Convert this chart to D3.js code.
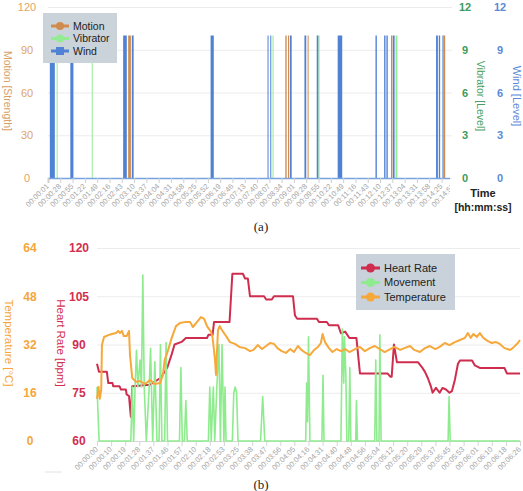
<!DOCTYPE html>
<html>
<head>
<meta charset="utf-8">
<script src="https://cdn.jsdelivr.net/npm/d3@7"></script>
<style>
body { margin: 0; background: #fff; }
svg { display: block; font-family: Helvetica, Arial, "Liberation Sans", sans-serif; }
</style>
</head>
<body>
<svg id="chart" width="523" height="491"></svg>
<script>
// (a) actuator events: [start sec, end sec, value]
var motionBars = [[177,183,100],[522,525,100],[528,530,100],[571,573,100],[754,757,100],[869,873,100]]
var vibratorBars = [[20,22,10],[56,58,10],[97,99,10],[494,496,10],[595,597,10],[764,768,10]]
var windBars = [[5,16,10],[50,56,10],[166,174,10],[185,189,10],[358,365,10],[483,485,10],[489,491,10],
    [532,536,10],[564,568,10],[591,595,10],[637,647,10],[720,723,10],[739,742,10],[744,747,10],
    [758,762,10],[853,857,10],[859,862,10],[867,869,10]]
var topTimeLabels = ["00:00:01","00:00:28","00:00:55","00:01:22","00:01:49","00:02:16","00:02:43","00:03:10",
    "00:03:37","00:04:04","00:04:31","00:04:58","00:05:25","00:05:52","00:06:19","00:06:46","00:07:13",
    "00:07:40","00:08:07","00:08:34","00:09:01","00:09:28","00:09:55","00:10:22","00:10:49","00:11:16",
    "00:11:43","00:12:10","00:12:37","00:13:04","00:13:31","00:13:58","00:14:25","00:14:52"]
var strengthTicks = [0, 30, 60, 90, 120]
var levelTicks = [0, 3, 6, 9, 12]

// (b) sensor log: [sample, value]
var heartRate = [[0,84],[1.4,81.5],[7,81.5],[8,78],[11,78],[11.5,77],[16,77],[17,76],[20.5,76],[21,74.5],
    [22.7,74],[24,67.5],[25,77],[37.6,77.5],[41,78.5],[44.7,79.5],[48,81.5],[50,83],[53,87],[55,90],
    [60,90.8],[63,92],[78,92],[79,93],[82,93],[83,97],[94,97],[96,112],[103.5,112],[105,110.5],[107,110.5],
    [108.5,105],[118.5,105],[120,104],[124,104],[125.5,105],[139,105],[140.4,99],[142,98],[156,98],
    [157.4,97],[163,97],[164.5,96],[171,96],[173,93.5],[176,94],[179,92],[184,92],[186.5,81],[206,81],
    [208,80],[209,80],[210.6,90],[212.7,84.5],[227.6,84.5],[230.4,83],[232.6,81.5],[234.7,79.5],[236.8,77],
    [238,75],[240.4,76.5],[243,75],[245,76.5],[247.5,76],[250,75],[251.7,75.5],[253.8,79],[256,84],
    [257.4,85],[266,85],[268,83.5],[271.5,82.7],[289,82.7],[290.7,81],[300,81]]
var temperature = [[0,14],[1,18],[2,14],[3,17],[3.5,31.8],[5,34.5],[8,35.1],[10.6,35.5],[13.5,35.8],[15,36.5],
    [16.3,35.8],[17.7,36.5],[19,34.8],[21,34.8],[22.7,36.5],[23.4,28.5],[25,20.9],[27.7,19.6],[30.5,19.9],
    [34,18.9],[37.6,20.2],[41,18.9],[44.7,19.2],[46.8,21.9],[48,26.9],[50,29.5],[53,34.2],[56,38.1],
    [58.8,39.1],[63,39.5],[66,39.5],[68,37.8],[71,39.5],[73.7,41.1],[76,40.5],[78,38.1],[81,36.1],[82,34.2],
    [83.7,26.9],[84.4,21.9],[85,28.5],[85.8,36.8],[87,38.1],[89,36.5],[91.5,34.8],[94.3,32.8],[97.8,32.2],
    [101,31.2],[105,30.8],[108.5,29.8],[111,30.2],[114,31.8],[117,30.5],[120,31.5],[122.7,32.5],[125.5,32.2],
    [128,30.8],[131,29.8],[134,29.2],[137,30.5],[139.7,29.5],[142.5,31.5],[145,30.2],[148,29.2],[151,28.5],
    [154,30.2],[156.7,31.2],[158.8,32.5],[160,35.5],[161.7,32.8],[164.5,30.8],[167,29.5],[170,30.5],
    [173,29.8],[176,30.5],[179,29.5],[183,30.5],[186.5,31.2],[190,29.8],[193.5,30.8],[197,31.5],[200.6,30.5],
    [204,29.5],[208,30.5],[211,31.2],[215,30.2],[218,30.8],[222,31.5],[225,30.2],[229,29.5],[232.6,30.8],
    [236,31.5],[240,30.5],[243,31.2],[246.7,32.5],[250,31.8],[253.8,32.8],[257.4,33.5],[261,34.2],[263,35.8],
    [265,34.2],[267,35.5],[269.4,34.5],[271.5,35.8],[274,34.2],[277,33.2],[280,32.5],[283,32.8],[285.7,32.2],
    [289,30.8],[293,30.2],[295.7,31.2],[298.5,32.5],[300,33.5]]
var movement = [[0,28],[1.5,0],[24,0],[25,28],[26,0],[27,28],[28,47],[29,28],[30.5,42],[31.5,28],[32.5,86],
    [33.5,28],[35,0],[37,28],[38,48],[39.5,0],[41,41],[42.5,0],[44,0],[45,50],[46,0],[48,0],[49,51],[50,0],
    [58.5,0],[59.5,38],[60.5,0],[62,0],[63,21],[64,0],[79,0],[80,28],[81,0],[82.5,28],[83.5,0],[85,28],
    [86.5,50],[87.5,0],[88.7,50],[90,0],[90.8,28],[91.5,0],[96,0],[97,25],[98,28],[99,25],[100,0],[116,0],
    [117.5,23],[119,0],[148,0],[148.7,30],[149.3,10],[150,54],[151,0],[159.5,0],[160.3,34],[161,0],[173,0],
    [174,58],[175,30],[175.5,54],[176.5,34],[177.2,0],[178.5,0],[179.3,38],[180,0],[183.5,0],[184,21],
    [184.7,0],[197,0],[197.7,42],[198.5,0],[200,0],[200.6,55],[201.5,0],[249,0],[249.7,23],[250.5,0],[300,0]]
var bottomTimeLabels = ["00:00:00","00:00:10","00:00:19","00:01:28","00:01:37","00:01:46","00:01:57","00:02:10",
    "00:02:18","00:02:53","00:03:25","00:03:38","00:03:47","00:03:56","00:04:05","00:04:16","00:04:31",
    "00:04:40","00:04:48","00:04:56","00:05:04","00:05:12","00:05:20","00:05:29","00:05:37","00:05:45",
    "00:05:53","00:06:01","00:06:10","00:06:18","00:06:26"]
var bpmTicks = [60, 75, 90, 105, 120]
var tempTicks = [0, 16, 32, 48, 64]

var svg = d3.select("#chart")
svg.append("rect").attr("width", 523).attr("height", 491).attr("fill", "#fff")

function toSeconds(s) {
    var p = s.split(":")
    return +p[0] * 3600 + +p[1] * 60 + +p[2]
}

// ================= (a) =================
var a = {left: 48, right: 452, top: 7, bottom: 178}
var xa = d3.scaleLinear().domain([1, 888]).range([a.left, a.right])
var yStrength = d3.scaleLinear().domain([0, 120]).range([a.bottom, a.top])
var yLevel = d3.scaleLinear().domain([0, 12]).range([a.bottom, a.top])

svg.append("g")
    .attr("transform", "translate(" + a.left + ",0)")
    .call(d3.axisLeft(yStrength).tickValues(strengthTicks).tickSize(-(a.right - a.left)).tickFormat(""))
    .call(g => g.select(".domain").remove())
    .selectAll("line").attr("stroke", "#ececec")

function drawBars(data, y, color, cls) {
    svg.selectAll("." + cls)
        .data(data)
        .enter().append("rect")
        .attr("class", cls)
        .attr("x", d => xa(d[0]))
        .attr("width", d => Math.max(1, xa(d[1]) - xa(d[0])))
        .attr("y", d => y(d[2]))
        .attr("height", d => a.bottom - y(d[2]))
        .attr("fill", color)
}
drawBars(windBars, yLevel, "#4f81d4", "wind")
drawBars(motionBars, yStrength, "#d08b4f", "motion")
drawBars(vibratorBars, yLevel, "#93ec93", "vib")

// clip is in the axis group's own coordinates (origin at the baseline)
svg.append("clipPath").attr("id", "clipA")
    .append("rect").attr("x", 0).attr("y", -10).attr("width", 450).attr("height", 60)

var xAxisA = svg.append("g")
    .attr("transform", "translate(0," + a.bottom + ")")
    .attr("clip-path", "url(#clipA)")
    .call(d3.axisBottom(xa)
        .tickValues(topTimeLabels.map(toSeconds))
        .tickFormat((d, i) => topTimeLabels[i])
        .tickSize(5))
xAxisA.select(".domain").attr("stroke", "#79a3e0").attr("stroke-width", 1.5)
xAxisA.selectAll(".tick line").attr("stroke", "#cfcfcf")
xAxisA.selectAll(".tick text")
    .attr("x", -5.6).attr("y", 4.2).attr("dy", "0.35em")
    .attr("transform", "rotate(-45)")
    .style("text-anchor", "end")
    .attr("fill", "#a5a5a5")
    .attr("font-size", 7.5)

// left axis (Motion)
var leftA = svg.append("g").attr("transform", "translate(27,0)")
    .call(d3.axisLeft(yStrength).tickValues(strengthTicks).tickSize(0).tickPadding(0))
leftA.select(".domain").remove()
leftA.selectAll("text").style("text-anchor", "middle").attr("fill", "#e0a468").attr("font-size", 11)

var vibA = svg.append("g").attr("transform", "translate(465,0)")
    .call(d3.axisRight(yLevel).tickValues(levelTicks).tickSize(0).tickPadding(0))
vibA.select(".domain").remove()
vibA.selectAll("text").style("text-anchor", "middle").attr("fill", "#3e9b5b")
    .attr("font-size", 11).attr("font-weight", 600)

var windA = svg.append("g").attr("transform", "translate(500,0)")
    .call(d3.axisRight(yLevel).tickValues(levelTicks).tickSize(0).tickPadding(0))
windA.select(".domain").remove()
windA.selectAll("text").style("text-anchor", "middle").attr("fill", "#5a8ad8")
    .attr("font-size", 11).attr("font-weight", 600)

function vLabel(x, y, text, color, size) {
    svg.append("text")
        .attr("transform", "translate(" + x + "," + y + ") rotate(90)")
        .attr("text-anchor", "middle")
        .attr("dy", "0.35em")
        .attr("fill", color)
        .attr("font-size", size)
        .text(text)
}
vLabel(8, 91, "Motion [Strength]", "#d9a066", 10.5)
vLabel(481, 96, "Vibrator [Level]", "#4c9f64", 10.5)
vLabel(517, 96, "Wind [Level]", "#5a8ad8", 11)

svg.append("text").attr("x", 483).attr("y", 197).attr("text-anchor", "middle")
    .attr("font-size", 11).attr("font-weight", 700).attr("fill", "#222").text("Time")
svg.append("text").attr("x", 483).attr("y", 211).attr("text-anchor", "middle")
    .attr("font-size", 10.5).attr("font-weight", 700).attr("fill", "#222").text("[hh:mm:ss]")

// legend (a)
var legA = svg.append("g")
legA.append("rect").attr("x", 43).attr("y", 13).attr("width", 74).attr("height", 50).attr("fill", "#cbd3da")
var legAItems = [["Motion", "#d08b4f", "circle"], ["Vibrator", "#93ec93", "circle"], ["Wind", "#4f81d4", "square"]]
legAItems.forEach(function (d, i) {
    var yy = 26 + i * 12.5
    legA.append("line").attr("x1", 51).attr("x2", 69).attr("y1", yy).attr("y2", yy)
        .attr("stroke", d[1]).attr("stroke-width", 3)
    if (d[2] == "circle") {
        legA.append("circle").attr("cx", 60).attr("cy", yy).attr("r", 4).attr("fill", d[1])
    } else {
        legA.append("rect").attr("x", 56).attr("y", yy - 4).attr("width", 8).attr("height", 8).attr("fill", d[1])
    }
    legA.append("text").attr("x", 73).attr("y", yy).attr("dy", "0.35em")
        .attr("font-size", 10.5).attr("fill", "#222").text(d[0])
})

svg.append("text").attr("x", 261).attr("y", 231).attr("text-anchor", "middle")
    .attr("font-family", "'Liberation Serif','DejaVu Serif',serif").attr("font-size", 13)
    .attr("fill", "#222").text("(a)")

// ================= (b) =================
var b = {left: 97, right: 520, top: 248, bottom: 441}
var xb = d3.scaleLinear().domain([0, 300]).range([b.left, b.right])
var yBpm = d3.scaleLinear().domain([60, 120]).range([b.bottom, b.top])
var yTemp = d3.scaleLinear().domain([0, 64]).range([b.bottom, b.top])
var yMove = d3.scaleLinear().domain([0, 100]).range([b.bottom, b.top])

svg.append("g")
    .attr("transform", "translate(" + b.left + ",0)")
    .call(d3.axisLeft(yBpm).tickValues(bpmTicks).tickSize(-(b.right - b.left)).tickFormat(""))
    .call(g => g.select(".domain").remove())
    .selectAll("line").attr("stroke", "#ececec")

var xAxisB = svg.append("g")
    .attr("transform", "translate(0," + b.bottom + ")")
    .call(d3.axisBottom(xb)
        .tickValues(bottomTimeLabels.map((d, i) => i * 10))
        .tickFormat((d, i) => bottomTimeLabels[i])
        .tickSize(5))
xAxisB.select(".domain").attr("stroke", "#d8d8d8")
xAxisB.selectAll(".tick line").attr("stroke", "#d5d5d5")
xAxisB.selectAll(".tick text")
    .attr("x", -5.6).attr("y", 4.2).attr("dy", "0.35em")
    .attr("transform", "rotate(-45)")
    .style("text-anchor", "end")
    .attr("fill", "#a5a5a5")
    .attr("font-size", 7.5)

function drawLine(data, y, color, w) {
    svg.append("path")
        .datum(data)
        .attr("fill", "none")
        .attr("stroke", color)
        .attr("stroke-width", w)
        .attr("stroke-linejoin", "round")
        .attr("d", d3.line().x(d => xb(d[0])).y(d => y(d[1])))
}
drawLine(heartRate, yBpm, "#cf2d4e", 2)
drawLine(movement, yMove, "#8eeb8e", 1.6)
drawLine(temperature, yTemp, "#f6a83a", 2)

var tempAx = svg.append("g").attr("transform", "translate(30,0)")
    .call(d3.axisLeft(yTemp).tickValues(tempTicks).tickSize(0).tickPadding(0))
tempAx.select(".domain").remove()
tempAx.selectAll("text").style("text-anchor", "middle").attr("fill", "#f5a63a")
    .attr("font-size", 12).attr("font-weight", 700)

var bpmAx = svg.append("g").attr("transform", "translate(79,0)")
    .call(d3.axisLeft(yBpm).tickValues(bpmTicks).tickSize(0).tickPadding(0))
bpmAx.select(".domain").remove()
bpmAx.selectAll("text").style("text-anchor", "middle").attr("fill", "#d22e50")
    .attr("font-size", 12).attr("font-weight", 700)

vLabel(9, 343, "Temperature [\u00B0C]", "#f5a63a", 11.5)
vLabel(61, 343, "Heart Rate [bpm]", "#d22e50", 11.5)

// legend (b)
var legB = svg.append("g")
legB.append("rect").attr("x", 356).attr("y", 254).attr("width", 99).attr("height", 56).attr("fill", "#c9d2da")
var legBItems = [["Heart Rate", "#cf2d4e"], ["Movement", "#8eeb8e"], ["Temperature", "#f6a83a"]]
legBItems.forEach(function (d, i) {
    var yy = 268 + i * 14.5
    legB.append("line").attr("x1", 361).attr("x2", 380).attr("y1", yy).attr("y2", yy)
        .attr("stroke", d[1]).attr("stroke-width", 3)
    legB.append("circle").attr("cx", 370.5).attr("cy", yy).attr("r", 4.5).attr("fill", d[1])
    legB.append("text").attr("x", 384).attr("y", yy).attr("dy", "0.35em")
        .attr("font-size", 11).attr("fill", "#222").text(d[0])
})

svg.append("line").attr("x1", 45).attr("x2", 62).attr("y1", 472).attr("y2", 472)
    .attr("stroke", "#e2e2e2")

svg.append("text").attr("x", 261).attr("y", 489).attr("text-anchor", "middle")
    .attr("font-family", "'Liberation Serif','DejaVu Serif',serif").attr("font-size", 13)
    .attr("fill", "#222").text("(b)")
</script>
</body>
</html>
